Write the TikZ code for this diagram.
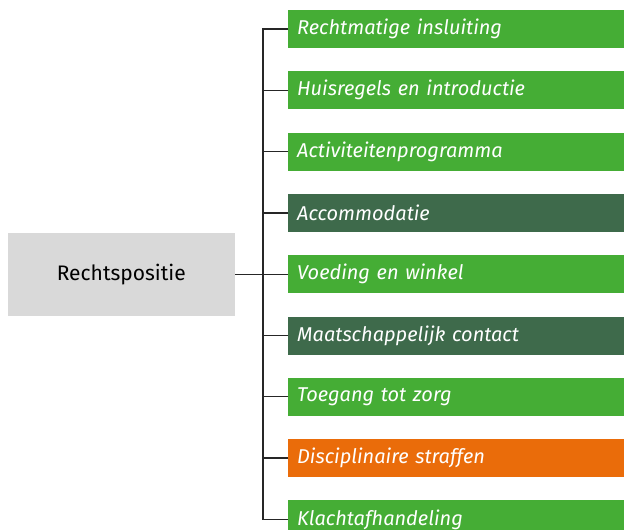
\documentclass[tikz,border=0pt]{standalone}
\usepackage{fontspec}
\setmainfont{Fira Sans}
\usetikzlibrary{positioning}
\definecolor{rgreen}{RGB}{69,173,53}
\definecolor{rdark}{RGB}{62,106,75}
\definecolor{rorange}{RGB}{234,108,10}
\definecolor{rgray}{RGB}{217,217,217}
\begin{document}
\begin{tikzpicture}[x=1pt,y=1pt,node distance=22.9pt,
root/.style={rectangle,fill=rgray,inner sep=0pt,minimum width=227pt,minimum height=83pt,font=\fontsize{21}{24}\selectfont},
item/.style={rectangle,fill=rgreen,text=white,anchor=west,inner xsep=9pt,inner ysep=0pt,minimum height=38pt,text width=318pt,align=left,font=\fontsize{20}{23}\selectfont\itshape},
itemdark/.style={item,fill=rdark},
itemorange/.style={item,fill=rorange},
branch/.style={line width=1.3pt,black!85}
]
\useasboundingbox (0,0) rectangle (624,-530);
%create nodes
\node[item] (item1) at (288,-29) {Rechtmatige insluiting};
\node[item, below=of item1.south west, anchor=north west] (item2) {Huisregels en introductie};
\node[item, below=of item2.south west, anchor=north west] (item3) {Activiteitenprogramma};
\node[itemdark, below=of item3.south west, anchor=north west] (item4) {Accommodatie};
\node[item, below=of item4.south west, anchor=north west] (item5) {Voeding en winkel};
\node[itemdark, below=of item5.south west, anchor=north west] (item6) {Maatschappelijk contact};
\node[item, below=of item6.south west, anchor=north west] (item7) {Toegang tot zorg};
\node[itemorange, below=of item7.south west, anchor=north west] (item8) {Disciplinaire straffen};
\node[item, below=of item8.south west, anchor=north west] (item9) {Klachtafhandeling};

\node[root, left=53pt of item5.west] (root) {Rechtspositie};
\coordinate[left=25pt of item5.west] (bus);

%draw branches
\draw[branch] (root.east) -- (item5.west);
\draw[branch] (item1.west) -| (bus);
\draw[branch] (item2.west) -| (bus);
\draw[branch] (item3.west) -| (bus);
\draw[branch] (item4.west) -| (bus);
\draw[branch] (item6.west) -| (bus);
\draw[branch] (item7.west) -| (bus);
\draw[branch] (item8.west) -| (bus);
\draw[branch] (item9.west) -| (bus);

\end{tikzpicture}
\end{document}
